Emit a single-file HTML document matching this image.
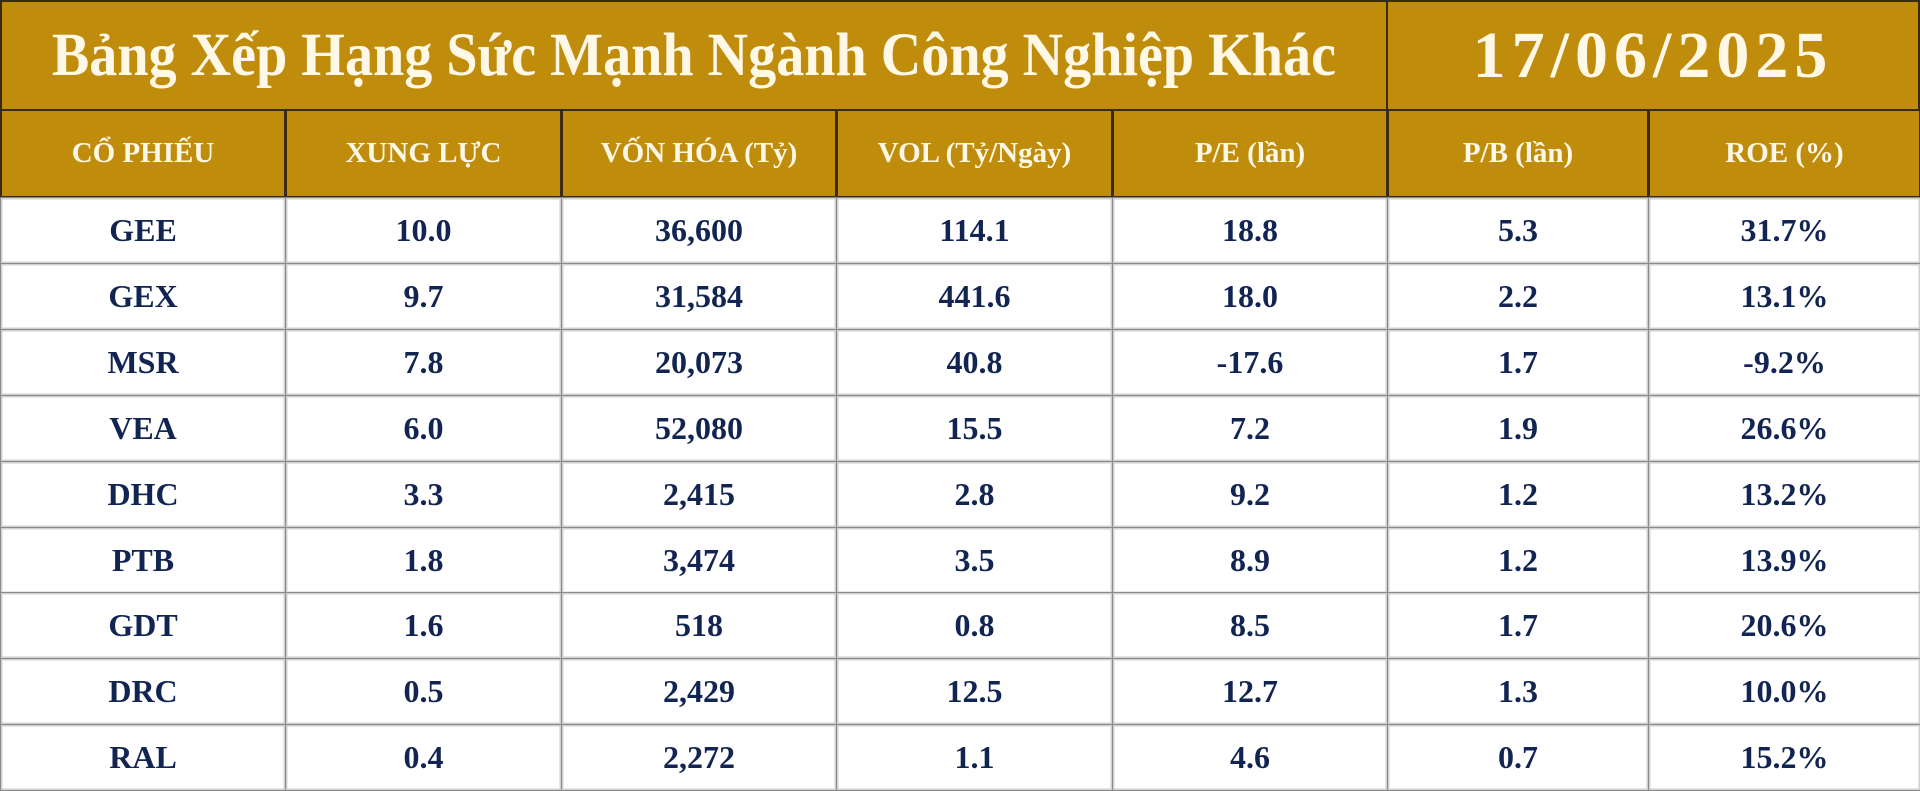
<!DOCTYPE html>
<html><head><meta charset="utf-8">
<style>
html,body{margin:0;padding:0;width:1920px;height:790px;overflow:hidden;background:#fff;}
#t{position:absolute;left:0;top:0;width:1920px;height:790px;}
.c{position:absolute;box-sizing:border-box;display:flex;align-items:center;justify-content:center;font-family:"Liberation Serif",serif;font-weight:bold;white-space:nowrap;}
.g{background:#BF8C0C;color:#FFF8E6;border:2px solid #3a2a10;}
.d{background:#fff;color:#112452;border:1.5px solid #8a8a8a;box-shadow:inset 0 0 0 1.5px #d0d0d0;font-size:32px;}
.title{font-size:61px;}
.title .s{transform:scaleX(0.92);}
.date{font-size:66px;letter-spacing:6px;}
.h{font-size:29px;}
.s{display:inline-block;}
</style></head><body>
<div id="t"></div>
<script>
const colX=[0,285,561,836,1112,1387,1648,1920];
const headers=["CỔ PHIẾU","XUNG LỰC","VỐN HÓA (Tỷ)","VOL (Tỷ/Ngày)","P/E (lần)","P/B (lần)","ROE (%)"];
const tickers=["GEE","GEX","MSR","VEA","DHC","PTB","GDT","DRC","RAL"];
const momentum=["10.0","9.7","7.8","6.0","3.3","1.8","1.6","0.5","0.4"];
const marketCap=["36,600","31,584","20,073","52,080","2,415","3,474","518","2,429","2,272"];
const volume=["114.1","441.6","40.8","15.5","2.8","3.5","0.8","12.5","1.1"];
const pe=["18.8","18.0","-17.6","7.2","9.2","8.9","8.5","12.7","4.6"];
const pb=["5.3","2.2","1.7","1.9","1.2","1.2","1.7","1.3","0.7"];
const roe=["31.7%","13.1%","-9.2%","26.6%","13.2%","13.9%","20.6%","10.0%","15.2%"];
const t=document.getElementById('t');
function cell(x,y,w,h,cls,txt,name){
  const e=document.createElement('div');
  e.className='c '+cls;
  e.style.left=x+'px';e.style.top=y+'px';e.style.width=w+'px';e.style.height=h+'px';
  const s=document.createElement('span');s.className='s';s.textContent=txt;e.appendChild(s);
  
  
  t.appendChild(e);
}
cell(0,0,1388,111,'g title','Bảng Xếp Hạng Sức Mạnh Ngành Công Nghiệp Khác','table-title');
cell(1386,0,534,111,'g date','17/06/2025','table-date');
headers.forEach((h,i)=>cell(colX[i],109,colX[i+1]-colX[i]+1,89,'g h',h,'column-header'));
const cols=[tickers,momentum,marketCap,volume,pe,pb,roe];
const top0=197,rh=65.9;
tickers.forEach((tk,r)=>{
  cols.forEach((arr,i)=>{
    cell(colX[i],Math.round(top0+r*rh),colX[i+1]-colX[i]+1,Math.round(rh)+1,'d',arr[r],'cell-'+tk.toLowerCase());
  });
});
</script>
</body></html>
